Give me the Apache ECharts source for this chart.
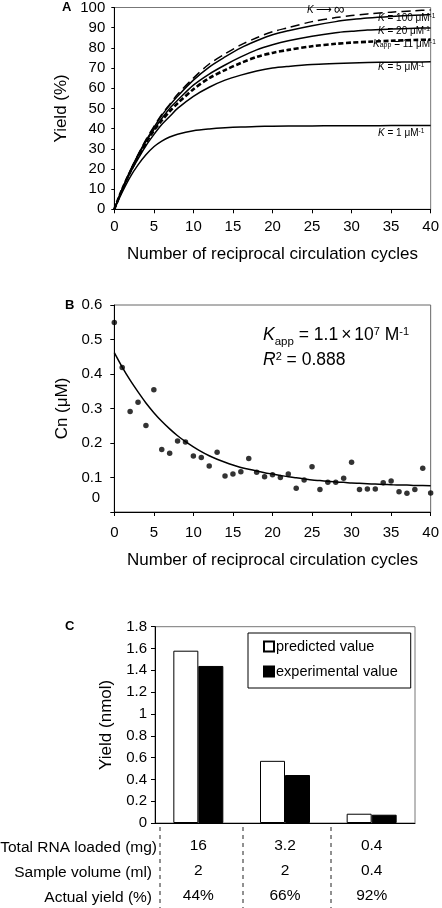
<!DOCTYPE html>
<html>
<head>
<meta charset="utf-8">
<script src="https://cdn.jsdelivr.net/npm/echarts@6/dist/echarts.min.js"></script>
<style>
html,body{margin:0;padding:0;background:#fff;}
#main{width:442px;height:908px;}
</style>
</head>
<body>
<div id="main"></div>
<script>
// ---- Panel A data ----
const cyclesA = [0,1,2,3,4,5,6,7,8,10,12,14,16,18,20,22,25,28,30,32,35,38,40];
const yieldKinf = [0,10,19,27,34.5,41,47,52,57,65,72,77,81.5,85,88,90,93,95,96,96.8,97.7,98.4,98.8];
const yieldK100 = [0,10,19,27,34,40.5,46.5,51.5,56,64,70.5,75.5,80,83.5,86.5,88.5,91,93,94,94.8,95.6,96.2,96.5];
const yieldK20  = [0,10,18.5,26.5,33.5,39.5,45,50,54,61.5,67,71.5,75.5,79,81.5,83.5,85.8,87.5,88.2,88.8,89.3,89.7,89.9];
const yieldKapp = [0,10,18.5,26,33,39,44,48.5,52.5,59.5,65,69,72.5,75.5,77.5,79,80.8,82,82.6,83,83.5,83.9,84.1];
const yieldK5   = [0,9.5,18,25,31.5,37,42,46,50,56,60.5,64,66.5,68.5,70,70.8,71.7,72.2,72.5,72.7,72.9,73,73.1];
const yieldK1   = [0,8.5,16,22,27,31,33.8,35.8,37.2,38.9,39.8,40.4,40.8,41,41.2,41.3,41.3,41.4,41.4,41.4,41.5,41.5,41.5];

// ---- Panel B data ----
const cyclesB = [0,1,2,3,4,5,6,7,8,9,10,11,12,13,14,15,16,17,18,19,20,21,22,23,24,25,26,27,28,29,30,31,32,33,34,35,36,37,38,39,40];
const cnMeasured = [0.549,0.419,0.291,0.318,0.251,0.354,0.181,0.170,0.206,0.203,0.162,0.158,0.133,0.173,0.104,0.110,0.117,0.155,0.115,0.102,0.108,0.100,0.110,0.069,0.093,0.131,0.065,0.086,0.086,0.098,0.144,0.065,0.067,0.067,0.085,0.090,0.059,0.054,0.065,0.127,0.055];
const cnFit = [0.462,0.420,0.382,0.348,0.316,0.288,0.263,0.241,0.221,0.204,0.189,0.175,0.163,0.153,0.144,0.136,0.129,0.124,0.119,0.114,0.110,0.106,0.102,0.099,0.096,0.093,0.091,0.089,0.087,0.086,0.084,0.083,0.082,0.081,0.080,0.079,0.078,0.078,0.077,0.077,0.076];

// ---- Panel C data ----
const groupsC = ['g1','g2','g3'];
const predictedValue = [1.58,0.57,0.085];
const experimentalValue = [1.44,0.44,0.076];
const totalRNA = ['16','3.2','0.4'];
const sampleVolume = ['2','2','0.4'];
const actualYield = ['44%','66%','92%'];
const rowLabels = ['Total RNA loaded (mg)','Sample volume (ml)','Actual yield (%)'];

const FONT = 'Liberation Sans, Arial, sans-serif';
const pairs = (xs, ys) => xs.map((x, i) => [x, ys[i]]);

const chart = echarts.init(document.getElementById('main'), null, {renderer:'canvas'});

const axisLabelStyle = {color:'#000', fontSize:15, fontFamily:FONT};
const nameStyle = {color:'#000', fontSize:17, fontFamily:FONT};
const blackLine = {show:true, lineStyle:{color:'#000', width:1}};

function curveLabel(x, y, txt) {
  return {
    type:'text', x:x, y:y, z:100,
    style:{
      text:txt, fill:'#000', fontSize:10, fontFamily:FONT,
      verticalAlign:'middle', align:'left',
      rich:{
        i:{fontStyle:'italic', fontSize:10, fontFamily:FONT, fill:'#000'},
        s:{fontSize:6.5, fontFamily:FONT, verticalAlign:'top', fill:'#000'},
        b:{fontSize:7, fontFamily:FONT, verticalAlign:'bottom', fill:'#000'},
        n:{fontSize:10, fontFamily:FONT, fill:'#000'},
        a:{fontSize:11, fontFamily:FONT, fill:'#000', padding:[0,2,0,2]},
        inf:{fontSize:15, fontFamily:FONT, fill:'#000'}
      }
    }
  };
}

const graphics = [
  {type:'text', x:62, y:7, style:{text:'A', fontSize:13, fontWeight:'bold', fontFamily:FONT, fill:'#000', verticalAlign:'middle'}},
  {type:'text', x:65, y:305, style:{text:'B', fontSize:13, fontWeight:'bold', fontFamily:FONT, fill:'#000', verticalAlign:'middle'}},
  {type:'text', x:65, y:626, style:{text:'C', fontSize:13, fontWeight:'bold', fontFamily:FONT, fill:'#000', verticalAlign:'middle'}},
  curveLabel(307, 10, '{i|K}{a|⟶}{inf|∞}'),
  curveLabel(378, 18, '{i|K}{n| = 100 μM}{s|-1}'),
  curveLabel(378, 31, '{i|K}{n| = 20 μM}{s|-1}'),
  curveLabel(373, 44, '{i|K}{b|app}{n| = 11 μM}{s|-1}'),
  curveLabel(378, 67, '{i|K}{n| = 5 μM}{s|-1}'),
  curveLabel(378, 133, '{i|K}{n| = 1 μM}{s|-1}'),
  {type:'text', x:263, y:335, z:100, style:{
    text:'{i|K}{b|app}{n| = 1.1}{x|×}{n|10}{s|7}{n| M}{s|-1}',
    fontSize:17, fontFamily:FONT, fill:'#000', verticalAlign:'middle',
    rich:{
      i:{fontStyle:'italic', fontSize:17.5, fontFamily:FONT, fill:'#000'},
      n:{fontSize:17.5, fontFamily:FONT, fill:'#000'},
      x:{fontSize:17.5, fontFamily:FONT, fill:'#000', padding:[0,3,0,3]},
      s:{fontSize:11, fontFamily:FONT, fill:'#000', verticalAlign:'top'},
      b:{fontSize:11.5, fontFamily:FONT, fill:'#000', verticalAlign:'bottom', padding:[0,0,-4,0]}
    }}},
  {type:'text', x:263, y:360, z:100, style:{
    text:'{i|R}{s|2}{n| = 0.888}',
    fontSize:17, fontFamily:FONT, fill:'#000', verticalAlign:'middle',
    rich:{
      i:{fontStyle:'italic', fontSize:17.5, fontFamily:FONT, fill:'#000'},
      n:{fontSize:17.5, fontFamily:FONT, fill:'#000'},
      s:{fontSize:11, fontFamily:FONT, fill:'#000', verticalAlign:'top'}
    }}},
  {type:'text', x:100, y:498, style:{text:'0', fontSize:15, fontFamily:FONT, fill:'#000', align:'right', verticalAlign:'middle'}},
];
// table row labels
const rowY = [848, 873, 898];
rowLabels.forEach((t, i) => {
  graphics.push({type:'text', x: i===0 ? 157 : 152, y: rowY[i], style:{text:t, fontSize:15.5, fontFamily:FONT, fill:'#000', align:'right', verticalAlign:'middle'}});
});
// dashed separators
[160, 243, 331].forEach(x => {
  graphics.push({type:'line', shape:{x1:x, y1:827, x2:x, y2:908}, style:{stroke:'#222', lineWidth:1, lineDash:[4,4]}});
});

const lineA = (name, ys, style) => ({
  name:name, type:'line', xAxisIndex:0, yAxisIndex:0, data:pairs(cyclesA, ys),
  smooth:0.3, symbol:'none', lineStyle:Object.assign({color:'#000', width:1.5}, style || {})
});

const option = {
  animation:false,
  backgroundColor:'#fff',
  textStyle:{fontFamily:FONT},
  grid:[
    {left:114.3, top:4, width:319, height:205.3, show:true, borderColor:'#777', borderWidth:1},
    {left:114.3, top:305, width:319, height:207, show:true, borderColor:'#666', borderWidth:1},
    {left:155, top:626.7, width:260, height:199, show:true, borderColor:'#777', borderWidth:1}
  ],
  legend:{
    data:['predicted value','experimental value'],
    left:248, top:633, orient:'vertical',
    itemWidth:10, itemHeight:10, itemGap:10, icon:'rect',
    borderColor:'#000', borderWidth:1, padding:[6,13,9,15],
    textStyle:{fontSize:14.5, fontFamily:FONT, color:'#000', padding:[0,0,0,-3]},
    backgroundColor:'#fff'
  },
  xAxis:[
    {gridIndex:0, type:'value', min:0, max:40, interval:5,
     axisLine:blackLine, axisTick:{show:true, length:4, lineStyle:{color:'#000'}},
     axisLabel:Object.assign({margin:10}, axisLabelStyle), splitLine:{show:false},
     name:'Number of reciprocal circulation cycles', nameLocation:'middle', nameGap:37, nameTextStyle:nameStyle},
    {gridIndex:1, type:'value', min:0, max:40, interval:5,
     axisLine:blackLine, axisTick:{show:true, length:4, lineStyle:{color:'#000'}},
     axisLabel:Object.assign({margin:13}, axisLabelStyle), splitLine:{show:false},
     name:'Number of reciprocal circulation cycles', nameLocation:'middle', nameGap:40, nameTextStyle:nameStyle},
    {gridIndex:2, type:'category', data:groupsC,
     axisLine:blackLine, axisTick:{show:false},
     axisLabel:{margin:10, color:'#000', fontSize:15.5, fontFamily:FONT, lineHeight:25,
       formatter:(v, i) => totalRNA[i] + '\n' + sampleVolume[i] + '\n' + actualYield[i]},
     splitLine:{show:false}}
  ],
  yAxis:[
    {gridIndex:0, type:'value', min:0, max:100, interval:10,
     axisLine:blackLine, axisTick:{show:true, length:3, lineStyle:{color:'#000'}},
     axisLabel:Object.assign({margin:9}, axisLabelStyle), splitLine:{show:false},
     name:'Yield (%)', nameLocation:'middle', nameGap:40.5, nameTextStyle:nameStyle},
    {gridIndex:1, type:'value', min:0, max:0.6, interval:0.1,
     axisLine:blackLine, axisTick:{show:true, length:4, lineStyle:{color:'#000'}},
     axisLabel:Object.assign({margin:12, formatter:v => v === 0 ? '' : String(+v.toFixed(1))}, axisLabelStyle),
     splitLine:{show:false},
     name:'Cn (μM)', nameLocation:'middle', nameGap:40.5, nameTextStyle:nameStyle},
    {gridIndex:2, type:'value', min:0, max:1.8, interval:0.2,
     axisLine:blackLine, axisTick:{show:true, length:4, lineStyle:{color:'#000'}},
     axisLabel:Object.assign({margin:8, formatter:v => String(+v.toFixed(1))}, axisLabelStyle),
     splitLine:{show:false},
     name:'Yield (nmol)', nameLocation:'middle', nameGap:39.5, nameTextStyle:nameStyle}
  ],
  series:[
    lineA('K→∞', yieldKinf, {type:[9,5]}),
    lineA('K=100', yieldK100),
    lineA('K=20', yieldK20),
    lineA('Kapp=11', yieldKapp, {width:2.6, type:[5,2.5]}),
    lineA('K=5', yieldK5),
    lineA('K=1', yieldK1),
    {name:'fit', type:'line', xAxisIndex:1, yAxisIndex:1, data:pairs(cyclesB, cnFit), smooth:0.3, symbol:'none', lineStyle:{color:'#000', width:1.5}},
    {name:'measured', type:'scatter', xAxisIndex:1, yAxisIndex:1, data:pairs(cyclesB, cnMeasured), symbol:'circle', symbolSize:5.5, itemStyle:{color:'#000'}},
    {name:'predicted value', type:'bar', xAxisIndex:2, yAxisIndex:2, data:predictedValue, barWidth:25, barGap:'0%',
     itemStyle:{color:'#fff', borderColor:'#000', borderWidth:1}},
    {name:'experimental value', type:'bar', xAxisIndex:2, yAxisIndex:2, data:experimentalValue, barWidth:25, barGap:'0%',
     itemStyle:{color:'#000', borderColor:'#000', borderWidth:1}}
  ],
  graphic:graphics
};
chart.setOption(option);
</script>
</body>
</html>
